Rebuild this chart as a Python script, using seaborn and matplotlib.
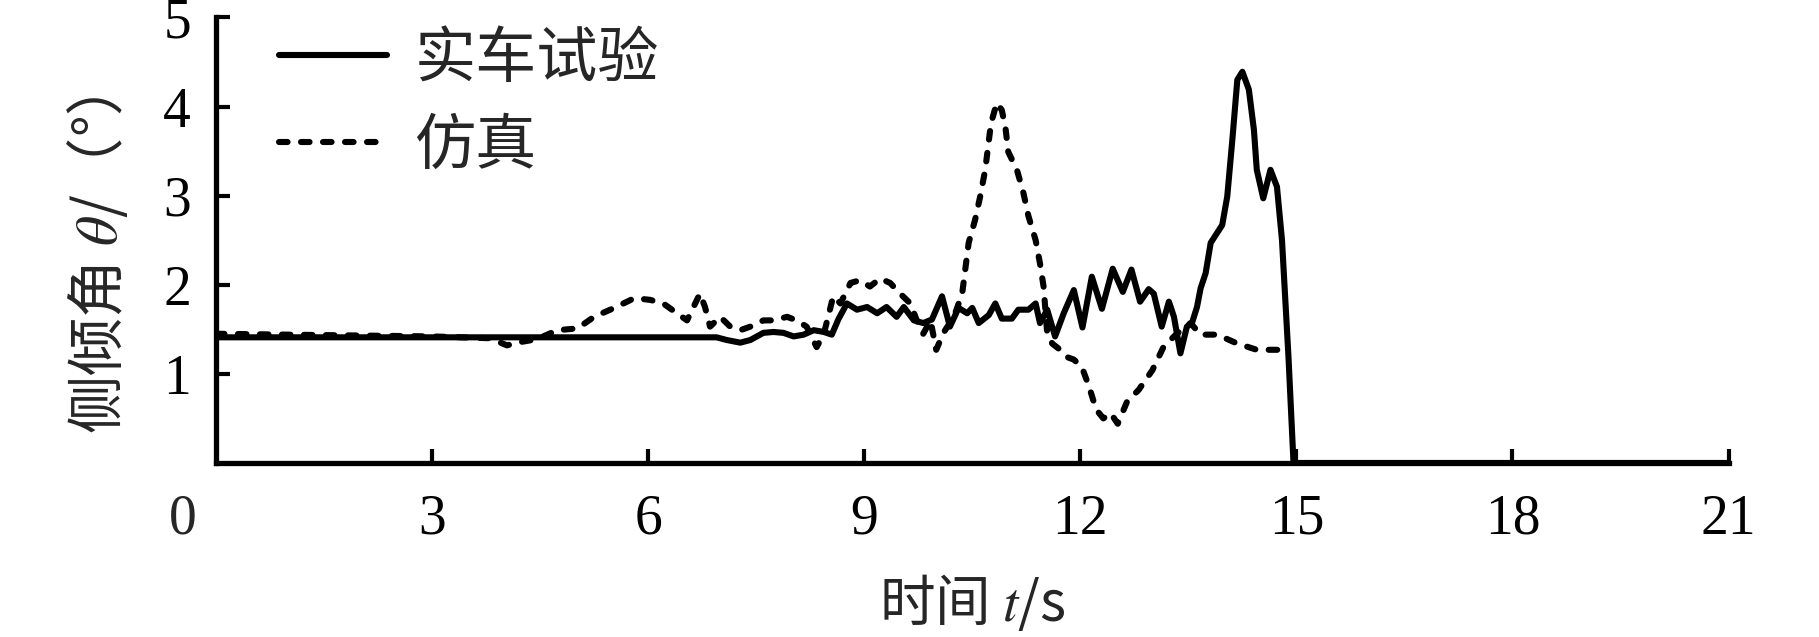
import numpy as np
import matplotlib
matplotlib.use("Agg")
import matplotlib.pyplot as plt
import seaborn as sns

# style
sns.set_theme(style="white")
plt.rcParams['font.family'] = ['Liberation Serif', 'Noto Sans CJK SC']
plt.rcParams['mathtext.fontset'] = 'stix'
plt.rcParams['axes.unicode_minus'] = False

# data: real-vehicle test (solid)
t_test = [0, 2, 4, 6, 6.95, 7.09, 7.28, 7.42, 7.6, 7.74, 7.88, 8.02, 8.16, 8.3, 8.44,
          8.55, 8.64, 8.76, 8.9, 9.04, 9.18, 9.31, 9.45, 9.55, 9.69, 9.82, 9.94, 10.08,
          10.19, 10.31, 10.43, 10.5, 10.59, 10.73, 10.82, 10.91, 11.05, 11.14, 11.28,
          11.38, 11.44, 11.54, 11.65, 11.77, 11.91, 12.03, 12.16, 12.3, 12.45, 12.59,
          12.71, 12.83, 12.95, 13.02, 13.13, 13.23, 13.3, 13.39, 13.48, 13.55, 13.62,
          13.67, 13.74, 13.81, 13.97, 14.04, 14.11, 14.18, 14.25, 14.34, 14.41, 14.45,
          14.54, 14.64, 14.73, 14.8, 14.89, 14.96, 21]
theta_test = [1.41, 1.41, 1.41, 1.41, 1.41, 1.38, 1.35, 1.38, 1.46, 1.47, 1.46, 1.42,
              1.44, 1.49, 1.47, 1.44, 1.61, 1.79, 1.72, 1.75, 1.68, 1.75, 1.64, 1.75,
              1.60, 1.57, 1.61, 1.87, 1.53, 1.74, 1.68, 1.74, 1.57, 1.66, 1.79, 1.62,
              1.62, 1.72, 1.72, 1.79, 1.57, 1.72, 1.42, 1.68, 1.94, 1.52, 2.09, 1.73,
              2.18, 1.92, 2.17, 1.81, 1.95, 1.90, 1.53, 1.81, 1.64, 1.23, 1.53, 1.57,
              1.75, 1.96, 2.13, 2.47, 2.67, 2.99, 3.62, 4.30, 4.39, 4.19, 3.74, 3.29,
              2.97, 3.29, 3.10, 2.50, 1.19, 0.0, 0.0]

# data: simulation (dashed)
t_sim = [0, 1, 2, 3, 3.8, 4.04, 4.25, 4.46, 4.74, 5.02, 5.25, 5.53, 5.81, 6.03, 6.21,
         6.4, 6.54, 6.72, 6.79, 6.86, 7.0, 7.14, 7.28, 7.42, 7.6, 7.74, 7.93, 8.06, 8.2,
         8.34, 8.44, 8.57, 8.67, 8.81, 8.94, 9.08, 9.22, 9.36, 9.5, 9.64, 9.73, 9.82,
         9.92, 10.0, 10.1, 10.25, 10.36, 10.45, 10.54, 10.61, 10.68, 10.76, 10.84,
         10.91, 10.96, 11.0, 11.12, 11.21, 11.28, 11.38, 11.44, 11.49, 11.54, 11.61,
         11.72, 11.81, 11.91, 12.02, 12.12, 12.22, 12.32, 12.42, 12.52, 12.65, 12.81,
         13.0, 13.16, 13.34, 13.53, 13.67, 13.9, 14.18, 14.45, 14.82]
theta_sim = [1.45, 1.44, 1.43, 1.42, 1.40, 1.32, 1.36, 1.39, 1.49, 1.51, 1.64, 1.74,
             1.85, 1.83, 1.79, 1.68, 1.60, 1.90, 1.75, 1.53, 1.64, 1.53, 1.49, 1.53,
             1.60, 1.60, 1.64, 1.60, 1.53, 1.30, 1.45, 1.87, 1.79, 2.02, 2.05, 1.98,
             2.07, 2.02, 1.90, 1.79, 1.60, 1.45, 1.60, 1.27, 1.46, 1.65, 1.90, 2.47,
             2.73, 2.99, 3.29, 3.81, 4.04, 3.96, 3.77, 3.49, 3.29, 3.03, 2.77, 2.50,
             2.24, 1.98, 1.46, 1.34, 1.27, 1.19, 1.16, 1.08, 0.86, 0.60, 0.50, 0.56,
             0.44, 0.69, 0.82, 1.04, 1.31, 1.45, 1.57, 1.44, 1.44, 1.34, 1.27, 1.27]

x_ticks = [3, 6, 9, 12, 15, 18, 21]
y_ticks = [1, 2, 3, 4, 5]
labels = ['实车试验', '仿真']

fig = plt.figure(figsize=(18.19, 6.37), dpi=100)
ax = fig.add_axes([0.1187, 0.2732, 0.8316, 0.6995])

sns.lineplot(x=t_test, y=theta_test, ax=ax, color='black', lw=4.4,
             label=labels[0], sort=False, errorbar=None)
sns.lineplot(x=t_sim, y=theta_sim, ax=ax, color='black', lw=4.4,
             linestyle=(0, (1.4, 2.2)), dash_capstyle='round',
             label=labels[1], sort=False, errorbar=None)

ax.set_xlim(0, 21)
ax.set_ylim(0, 5)
ax.set_xticks(x_ticks)
ax.set_yticks(y_ticks)
ax.tick_params(axis='both', direction='in', length=10, width=3,
               labelsize=40, colors='black', bottom=True, left=True)
ax.tick_params(axis='x', pad=22)
ax.tick_params(axis='y', pad=18)
ax.annotate('0', xy=(0, 0), xytext=(-24, -22), textcoords='offset points',
            ha='center', va='top', fontsize=40)

for s in ['top', 'right']:
    ax.spines[s].set_visible(False)
for s in ['left', 'bottom']:
    ax.spines[s].set_linewidth(3.8)
    ax.spines[s].set_color('black')

ax.set_xlabel('时间 $t$/s', fontsize=40, labelpad=20, family='Noto Sans CJK SC')
ax.set_ylabel('侧倾角 $\\theta$/（°）', fontsize=42, family='Noto Sans CJK SC')
ax.yaxis.set_label_coords(-0.056, 0.445)

ax.legend(frameon=False, loc='upper left', bbox_to_anchor=(0.0415, 0.965),
          handlelength=1.77, handletextpad=0.45, labelspacing=0.5,
          fontsize=44, borderaxespad=0, borderpad=0)

plt.savefig('out.png', dpi=100)
